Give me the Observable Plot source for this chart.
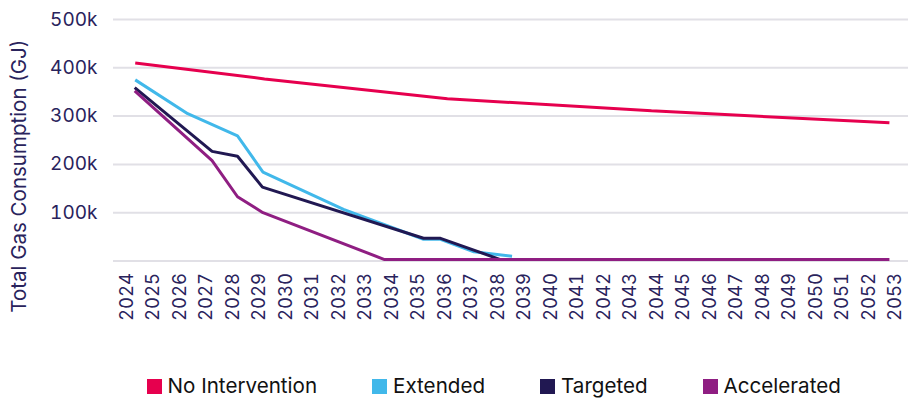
<!DOCTYPE html>
<html>
<head>
<meta charset="utf-8">
<script src="https://cdn.jsdelivr.net/npm/d3@7"></script>
<script src="https://cdn.jsdelivr.net/npm/@observablehq/plot@0.6"></script>
<style>
  html, body { margin: 0; padding: 0; background: #fff; overflow: hidden; }
  body { width: 911px; height: 400px; font-family: Inter, "Noto Sans", sans-serif; }
  #legend { display: flex; align-items: center; padding-left: 146.5px; margin-top: 5px; height: 22px; }
  .item { display: flex; align-items: center; margin-right: 55px; }
  .sw { width: 15px; height: 15px; margin-right: 6px; flex: none; }
  .lab { font-size: 20.6px; color: #111; line-height: 22px; white-space: nowrap; }
</style>
</head>
<body>
<div id="chart"></div>
<div id="legend"></div>
<script>
// ---- data ----
const seriesNames = ["No Intervention", "Extended", "Targeted", "Accelerated"];
const seriesColors = ["#e6004e", "#41b8ea", "#211852", "#8f1e82"];

const noInterventionYears  = [2024.32, 2029.2, 2036.1, 2043.8, 2052.78];
const noInterventionValues = [410000, 377000, 336000, 311000, 286000];

const extendedYears  = [2024.32, 2026.3, 2028.18, 2029.14, 2032.18, 2035.2, 2035.84, 2037.1, 2038.54];
const extendedValues = [375000, 305000, 259000, 184000, 107000, 45000, 45000, 19000, 10000];

const targetedYears  = [2024.3, 2027.22, 2028.18, 2029.12, 2035.2, 2035.84, 2038.1];
const targetedValues = [359000, 227000, 217000, 153000, 47000, 47000, 3000];

const acceleratedYears  = [2024.3, 2027.22, 2028.18, 2029.14, 2033.73, 2052.78];
const acceleratedValues = [352000, 208000, 133000, 100000, 3000, 3000];

const xTickYears = d3.range(2024, 2054);
const yTickValues = [100000, 200000, 300000, 400000, 500000];
const gridValues = [0, 100000, 200000, 300000, 400000, 500000];
const yTitle = "Total Gas Consumption (GJ)";

// ---- build table ----
const yearsBySeries = [noInterventionYears, extendedYears, targetedYears, acceleratedYears];
const valuesBySeries = [noInterventionValues, extendedValues, targetedValues, acceleratedValues];
const rows = seriesNames.flatMap((name, i) =>
  yearsBySeries[i].map((yr, j) => ({series: name, year: yr, value: valuesBySeries[i][j]})));

const axisColor = "#29235c";
const H = 370;

const chart = Plot.plot({
  width: 911,
  height: H,
  marginTop: 19,
  marginBottom: H - 260.5,
  marginLeft: 113,
  marginRight: 3,
  style: {fontFamily: "Inter, 'Noto Sans', sans-serif", fontSize: "18px", color: axisColor, background: "#fff"},
  x: {domain: [2023.5, 2053.5]},
  y: {domain: [0, 500000]},
  color: {domain: seriesNames, range: seriesColors},
  marks: [
    Plot.gridY(gridValues, {stroke: "#e1e0e6", strokeOpacity: 1, strokeWidth: 2}),
    Plot.axisY(yTickValues, {tickSize: 0, tickPadding: 16, tickFormat: d => (d / 1000) + "k", label: null, fontSize: 19, fill: axisColor}),
    Plot.axisX(xTickYears, {tickSize: 0, tickPadding: 12, tickRotate: -90, tickFormat: d => String(d), label: null, fontSize: 18.5, fill: axisColor}),
    Plot.text([yTitle], {frameAnchor: "left", textAnchor: "middle", rotate: -90, dx: -94, dy: 36, fontSize: 20.5, fill: axisColor}),
    Plot.line(rows, {x: "year", y: "value", z: "series", stroke: "series", strokeWidth: 3, strokeLinejoin: "miter", strokeLinecap: "butt"})
  ]
});
document.getElementById("chart").appendChild(chart);

const legend = document.getElementById("legend");
seriesNames.forEach((name, i) => {
  const item = document.createElement("div");
  item.className = "item";
  const sw = document.createElement("div");
  sw.className = "sw";
  sw.style.background = seriesColors[i];
  const lab = document.createElement("span");
  lab.className = "lab";
  lab.textContent = name;
  item.appendChild(sw);
  item.appendChild(lab);
  legend.appendChild(item);
});
</script>
</body>
</html>
